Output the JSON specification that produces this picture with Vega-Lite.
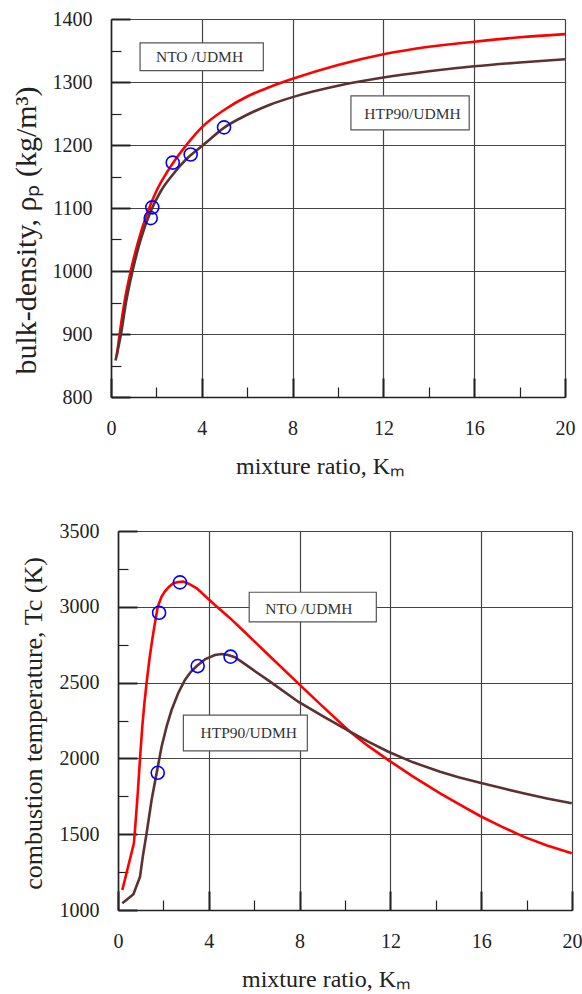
{
  "$schema": "https://vega.github.io/schema/vega-lite/v6.json",
  "padding": {"left": 11, "top": 9, "right": 0, "bottom": 0},
  "spacing": 43,
  "config": {
    "view": {"stroke": null},
    "font": "Liberation Serif",
    "axis": {
      "labelFont": "Liberation Serif",
      "titleFont": "Liberation Serif",
      "labelColor": "#222",
      "titleColor": "#222",
      "titleFontWeight": "normal",
      "labelFontSize": 20,
      "labelFlush": false,
      "labelOverlap": false,
      "format": "d",
      "grid": true,
      "gridColor": "#444",
      "gridWidth": 1.2,
      "domainColor": "#222",
      "domainWidth": 1.6,
      "tickColor": "#222"
    }
  },
  "datasets": {
    "rho_lines": [
      {"series": "NTO/UDMH", "K": 0.25, "v": 865},
      {"series": "NTO/UDMH", "K": 0.4, "v": 905},
      {"series": "NTO/UDMH", "K": 0.6, "v": 952},
      {"series": "NTO/UDMH", "K": 0.87, "v": 1000},
      {"series": "NTO/UDMH", "K": 1.2, "v": 1047},
      {"series": "NTO/UDMH", "K": 1.6, "v": 1092},
      {"series": "NTO/UDMH", "K": 2.0, "v": 1127},
      {"series": "NTO/UDMH", "K": 2.4, "v": 1153},
      {"series": "NTO/UDMH", "K": 2.8, "v": 1175},
      {"series": "NTO/UDMH", "K": 3.3, "v": 1199},
      {"series": "NTO/UDMH", "K": 4.0, "v": 1228},
      {"series": "NTO/UDMH", "K": 5.0, "v": 1256},
      {"series": "NTO/UDMH", "K": 6.0, "v": 1277},
      {"series": "NTO/UDMH", "K": 7.0, "v": 1292},
      {"series": "NTO/UDMH", "K": 8.0, "v": 1305},
      {"series": "NTO/UDMH", "K": 10.0, "v": 1327},
      {"series": "NTO/UDMH", "K": 12.0, "v": 1344},
      {"series": "NTO/UDMH", "K": 14.0, "v": 1356},
      {"series": "NTO/UDMH", "K": 16.0, "v": 1364},
      {"series": "NTO/UDMH", "K": 18.0, "v": 1371},
      {"series": "NTO/UDMH", "K": 20.0, "v": 1376},
      {"series": "HTP90/UDMH", "K": 0.2, "v": 858},
      {"series": "HTP90/UDMH", "K": 0.45, "v": 902},
      {"series": "HTP90/UDMH", "K": 0.66, "v": 950},
      {"series": "HTP90/UDMH", "K": 0.95, "v": 1000},
      {"series": "HTP90/UDMH", "K": 1.3, "v": 1049},
      {"series": "HTP90/UDMH", "K": 1.75, "v": 1095},
      {"series": "HTP90/UDMH", "K": 2.2, "v": 1127},
      {"series": "HTP90/UDMH", "K": 2.7, "v": 1152},
      {"series": "HTP90/UDMH", "K": 3.3, "v": 1177},
      {"series": "HTP90/UDMH", "K": 4.1, "v": 1201},
      {"series": "HTP90/UDMH", "K": 5.0, "v": 1228},
      {"series": "HTP90/UDMH", "K": 6.0, "v": 1248},
      {"series": "HTP90/UDMH", "K": 7.0, "v": 1264},
      {"series": "HTP90/UDMH", "K": 8.0, "v": 1276},
      {"series": "HTP90/UDMH", "K": 10.0, "v": 1294},
      {"series": "HTP90/UDMH", "K": 12.0, "v": 1307},
      {"series": "HTP90/UDMH", "K": 14.0, "v": 1317},
      {"series": "HTP90/UDMH", "K": 16.0, "v": 1325},
      {"series": "HTP90/UDMH", "K": 18.0, "v": 1331},
      {"series": "HTP90/UDMH", "K": 20.0, "v": 1336}
    ],
    "rho_pts": [
      {"K": 1.82, "v": 1101},
      {"K": 1.75, "v": 1084},
      {"K": 2.72, "v": 1172},
      {"K": 3.51, "v": 1185},
      {"K": 4.98, "v": 1228}
    ],
    "rho_boxes": [
      {"K": 1.28, "K2": 6.71, "v": 1318, "v2": 1362},
      {"K": 10.57, "K2": 15.78, "v": 1224, "v2": 1278}
    ],
    "rho_labels": [
      {"K": 3.9, "v": 1339, "text": "NTO /UDMH"},
      {"K": 13.28, "v": 1249, "text": "HTP90/UDMH"}
    ],
    "tc_lines": [
      {"series": "NTO/UDMH", "K": 0.19, "v": 1132},
      {"series": "NTO/UDMH", "K": 0.7, "v": 1440},
      {"series": "NTO/UDMH", "K": 0.79, "v": 1610},
      {"series": "NTO/UDMH", "K": 0.87, "v": 1770},
      {"series": "NTO/UDMH", "K": 0.97, "v": 2000},
      {"series": "NTO/UDMH", "K": 1.07, "v": 2209},
      {"series": "NTO/UDMH", "K": 1.16, "v": 2360},
      {"series": "NTO/UDMH", "K": 1.26, "v": 2500},
      {"series": "NTO/UDMH", "K": 1.38, "v": 2649},
      {"series": "NTO/UDMH", "K": 1.5, "v": 2775},
      {"series": "NTO/UDMH", "K": 1.6, "v": 2869},
      {"series": "NTO/UDMH", "K": 1.75, "v": 3000},
      {"series": "NTO/UDMH", "K": 1.92, "v": 3067},
      {"series": "NTO/UDMH", "K": 2.07, "v": 3102},
      {"series": "NTO/UDMH", "K": 2.25, "v": 3133},
      {"series": "NTO/UDMH", "K": 2.44, "v": 3155},
      {"series": "NTO/UDMH", "K": 2.65, "v": 3164},
      {"series": "NTO/UDMH", "K": 2.88, "v": 3166},
      {"series": "NTO/UDMH", "K": 3.15, "v": 3150},
      {"series": "NTO/UDMH", "K": 3.47, "v": 3122},
      {"series": "NTO/UDMH", "K": 3.85, "v": 3070},
      {"series": "NTO/UDMH", "K": 4.27, "v": 3012},
      {"series": "NTO/UDMH", "K": 4.9, "v": 2930},
      {"series": "NTO/UDMH", "K": 5.5, "v": 2845},
      {"series": "NTO/UDMH", "K": 6.7, "v": 2672},
      {"series": "NTO/UDMH", "K": 7.94, "v": 2495},
      {"series": "NTO/UDMH", "K": 9.0, "v": 2345},
      {"series": "NTO/UDMH", "K": 10.22, "v": 2176},
      {"series": "NTO/UDMH", "K": 11.0, "v": 2084},
      {"series": "NTO/UDMH", "K": 11.91, "v": 1989},
      {"series": "NTO/UDMH", "K": 13.0, "v": 1880},
      {"series": "NTO/UDMH", "K": 14.19, "v": 1770},
      {"series": "NTO/UDMH", "K": 15.0, "v": 1700},
      {"series": "NTO/UDMH", "K": 15.95, "v": 1620},
      {"series": "NTO/UDMH", "K": 16.9, "v": 1550},
      {"series": "NTO/UDMH", "K": 17.86, "v": 1484},
      {"series": "NTO/UDMH", "K": 18.9, "v": 1426},
      {"series": "NTO/UDMH", "K": 19.99, "v": 1374},
      {"series": "HTP90/UDMH", "K": 0.19, "v": 1044},
      {"series": "HTP90/UDMH", "K": 0.68, "v": 1104},
      {"series": "HTP90/UDMH", "K": 0.97, "v": 1220},
      {"series": "HTP90/UDMH", "K": 1.1, "v": 1360},
      {"series": "HTP90/UDMH", "K": 1.26, "v": 1506},
      {"series": "HTP90/UDMH", "K": 1.48, "v": 1726},
      {"series": "HTP90/UDMH", "K": 1.7, "v": 1902},
      {"series": "HTP90/UDMH", "K": 1.92, "v": 2077},
      {"series": "HTP90/UDMH", "K": 2.14, "v": 2210},
      {"series": "HTP90/UDMH", "K": 2.36, "v": 2319},
      {"series": "HTP90/UDMH", "K": 2.65, "v": 2430},
      {"series": "HTP90/UDMH", "K": 2.95, "v": 2517},
      {"series": "HTP90/UDMH", "K": 3.2, "v": 2570},
      {"series": "HTP90/UDMH", "K": 3.47, "v": 2609},
      {"series": "HTP90/UDMH", "K": 3.85, "v": 2655},
      {"series": "HTP90/UDMH", "K": 4.27, "v": 2682},
      {"series": "HTP90/UDMH", "K": 4.57, "v": 2689},
      {"series": "HTP90/UDMH", "K": 4.85, "v": 2682},
      {"series": "HTP90/UDMH", "K": 5.15, "v": 2667},
      {"series": "HTP90/UDMH", "K": 5.5, "v": 2632},
      {"series": "HTP90/UDMH", "K": 6.1, "v": 2568},
      {"series": "HTP90/UDMH", "K": 6.7, "v": 2506},
      {"series": "HTP90/UDMH", "K": 7.94, "v": 2374},
      {"series": "HTP90/UDMH", "K": 9.0, "v": 2280},
      {"series": "HTP90/UDMH", "K": 10.22, "v": 2176},
      {"series": "HTP90/UDMH", "K": 11.0, "v": 2112},
      {"series": "HTP90/UDMH", "K": 11.91, "v": 2044},
      {"series": "HTP90/UDMH", "K": 13.0, "v": 1974},
      {"series": "HTP90/UDMH", "K": 14.19, "v": 1912},
      {"series": "HTP90/UDMH", "K": 15.0, "v": 1876},
      {"series": "HTP90/UDMH", "K": 15.95, "v": 1840},
      {"series": "HTP90/UDMH", "K": 16.9, "v": 1804},
      {"series": "HTP90/UDMH", "K": 17.86, "v": 1770},
      {"series": "HTP90/UDMH", "K": 18.9, "v": 1736},
      {"series": "HTP90/UDMH", "K": 19.99, "v": 1704}
    ],
    "tc_pts": [
      {"K": 1.81, "v": 2961},
      {"K": 2.73, "v": 3161},
      {"K": 3.51, "v": 2609},
      {"K": 4.96, "v": 2671},
      {"K": 1.75, "v": 1905}
    ],
    "tc_boxes": [
      {"K": 5.78, "K2": 11.38, "v": 2900, "v2": 3096},
      {"K": 2.88, "K2": 8.34, "v": 2049, "v2": 2286}
    ],
    "tc_labels": [
      {"K": 8.41, "v": 2985, "text": "NTO /UDMH"},
      {"K": 5.76, "v": 2170, "text": "HTP90/UDMH"}
    ]
  },
  "vconcat": [
    {
      "width": 454,
      "height": 378,
      "encoding": {
        "x": {
          "field": "K", "type": "quantitative",
          "scale": {"domain": [0, 20], "nice": false, "zero": false},
          "axis": {
            "values": [0, 2, 4, 6, 8, 10, 12, 14, 16, 18, 20],
            "title": "mixture ratio,  Kₘ",
            "titleFontSize": 24,
            "titlePadding": 7,
            "titleX": 209,
            "labelPadding": 40,
            "labelExpr": "datum.value % 4 == 0 ? datum.label : ''",
            "gridOpacity": {"condition": {"test": "datum.value % 4 == 0", "value": 1}, "value": 0},
            "tickSize": {"condition": {"test": "datum.value % 4 == 0", "value": -19}, "value": -10},
            "tickWidth": {"condition": {"test": "datum.value % 4 == 0", "value": 2}, "value": 1.2}
          }
        },
        "y": {
          "field": "v", "type": "quantitative",
          "scale": {"domain": [800, 1400], "nice": false, "zero": false},
          "axis": {
            "values": [800, 850, 900, 950, 1000, 1050, 1100, 1150, 1200, 1250, 1300, 1350, 1400],
            "title": "bulk-density, ρₚ  (kg/m³)",
            "titleFontSize": 30,
            "titlePadding": 11,
            "titleY": 211,
            "labelPadding": 38,
            "labelExpr": "datum.value % 100 == 0 ? datum.label : ''",
            "gridOpacity": {"condition": {"test": "datum.value % 100 == 0", "value": 1}, "value": 0},
            "tickSize": {"condition": {"test": "datum.value % 100 == 0", "value": -19}, "value": -10},
            "tickWidth": {"condition": {"test": "datum.value % 100 == 0", "value": 2}, "value": 1.2}
          }
        }
      },
      "layer": [
        {
          "data": {"name": "rho_boxes"},
          "mark": {"type": "rect", "fill": "white", "stroke": "#555", "strokeWidth": 1.2},
          "encoding": {"x2": {"field": "K2"}, "y2": {"field": "v2"}}
        },
        {
          "data": {"name": "rho_labels"},
          "mark": {"type": "text", "font": "Liberation Serif", "fontSize": 15.5, "color": "#333", "baseline": "middle", "align": "center"},
          "encoding": {"text": {"field": "text"}}
        },
        {
          "data": {"name": "rho_lines"},
          "mark": {"type": "line", "strokeWidth": 2.6, "interpolate": "monotone"},
          "encoding": {
            "color": {"field": "series", "type": "nominal", "scale": {"domain": ["NTO/UDMH", "HTP90/UDMH"], "range": ["#ff0000", "#5c3131"]}, "legend": null},
            "order": {"field": "K", "type": "quantitative"}
          }
        },
        {
          "data": {"name": "rho_pts"},
          "mark": {"type": "point", "shape": "circle", "filled": false, "color": "#0000ff", "size": 170, "strokeWidth": 1.6, "opacity": 1}
        }
      ]
    },
    {
      "width": 461,
      "height": 379,
      "encoding": {
        "x": {
          "field": "K", "type": "quantitative",
          "scale": {"domain": [0, 20], "nice": false, "zero": false, "range": [7, 461]},
          "axis": {
            "values": [0, 2, 4, 6, 8, 10, 12, 14, 16, 18, 20],
            "title": "mixture ratio,  Kₘ",
            "titleFontSize": 24,
            "titlePadding": 7,
            "titleX": 215,
            "labelPadding": 40,
            "labelExpr": "datum.value % 4 == 0 ? datum.label : ''",
            "gridOpacity": {"condition": {"test": "datum.value % 4 == 0", "value": 1}, "value": 0},
            "tickSize": {"condition": {"test": "datum.value % 4 == 0", "value": -19}, "value": -10},
            "tickWidth": {"condition": {"test": "datum.value % 4 == 0", "value": 2}, "value": 1.2}
          }
        },
        "y": {
          "field": "v", "type": "quantitative",
          "scale": {"domain": [1000, 3500], "nice": false, "zero": false},
          "axis": {
            "offset": -7,
            "values": [1000, 1250, 1500, 1750, 2000, 2250, 2500, 2750, 3000, 3250, 3500],
            "title": "combustion temperature, Tc  (K)",
            "titleFontSize": 26,
            "titlePadding": 13,
            "titleY": 192,
            "labelPadding": 38,
            "labelExpr": "datum.value % 500 == 0 ? datum.label : ''",
            "gridOpacity": {"condition": {"test": "datum.value % 500 == 0", "value": 1}, "value": 0},
            "tickSize": {"condition": {"test": "datum.value % 500 == 0", "value": -19}, "value": -10},
            "tickWidth": {"condition": {"test": "datum.value % 500 == 0", "value": 2}, "value": 1.2}
          }
        }
      },
      "layer": [
        {
          "data": {"name": "tc_boxes"},
          "mark": {"type": "rect", "fill": "white", "stroke": "#555", "strokeWidth": 1.2},
          "encoding": {"x2": {"field": "K2"}, "y2": {"field": "v2"}}
        },
        {
          "data": {"name": "tc_labels"},
          "mark": {"type": "text", "font": "Liberation Serif", "fontSize": 15.5, "color": "#333", "baseline": "middle", "align": "center"},
          "encoding": {"text": {"field": "text"}}
        },
        {
          "data": {"name": "tc_lines"},
          "mark": {"type": "line", "strokeWidth": 2.6, "interpolate": "linear"},
          "encoding": {
            "color": {"field": "series", "type": "nominal", "scale": {"domain": ["NTO/UDMH", "HTP90/UDMH"], "range": ["#ff0000", "#5c3131"]}, "legend": null},
            "order": {"field": "K", "type": "quantitative"}
          }
        },
        {
          "data": {"name": "tc_pts"},
          "mark": {"type": "point", "shape": "circle", "filled": false, "color": "#0000ff", "size": 170, "strokeWidth": 1.6, "opacity": 1}
        }
      ]
    }
  ]
}
